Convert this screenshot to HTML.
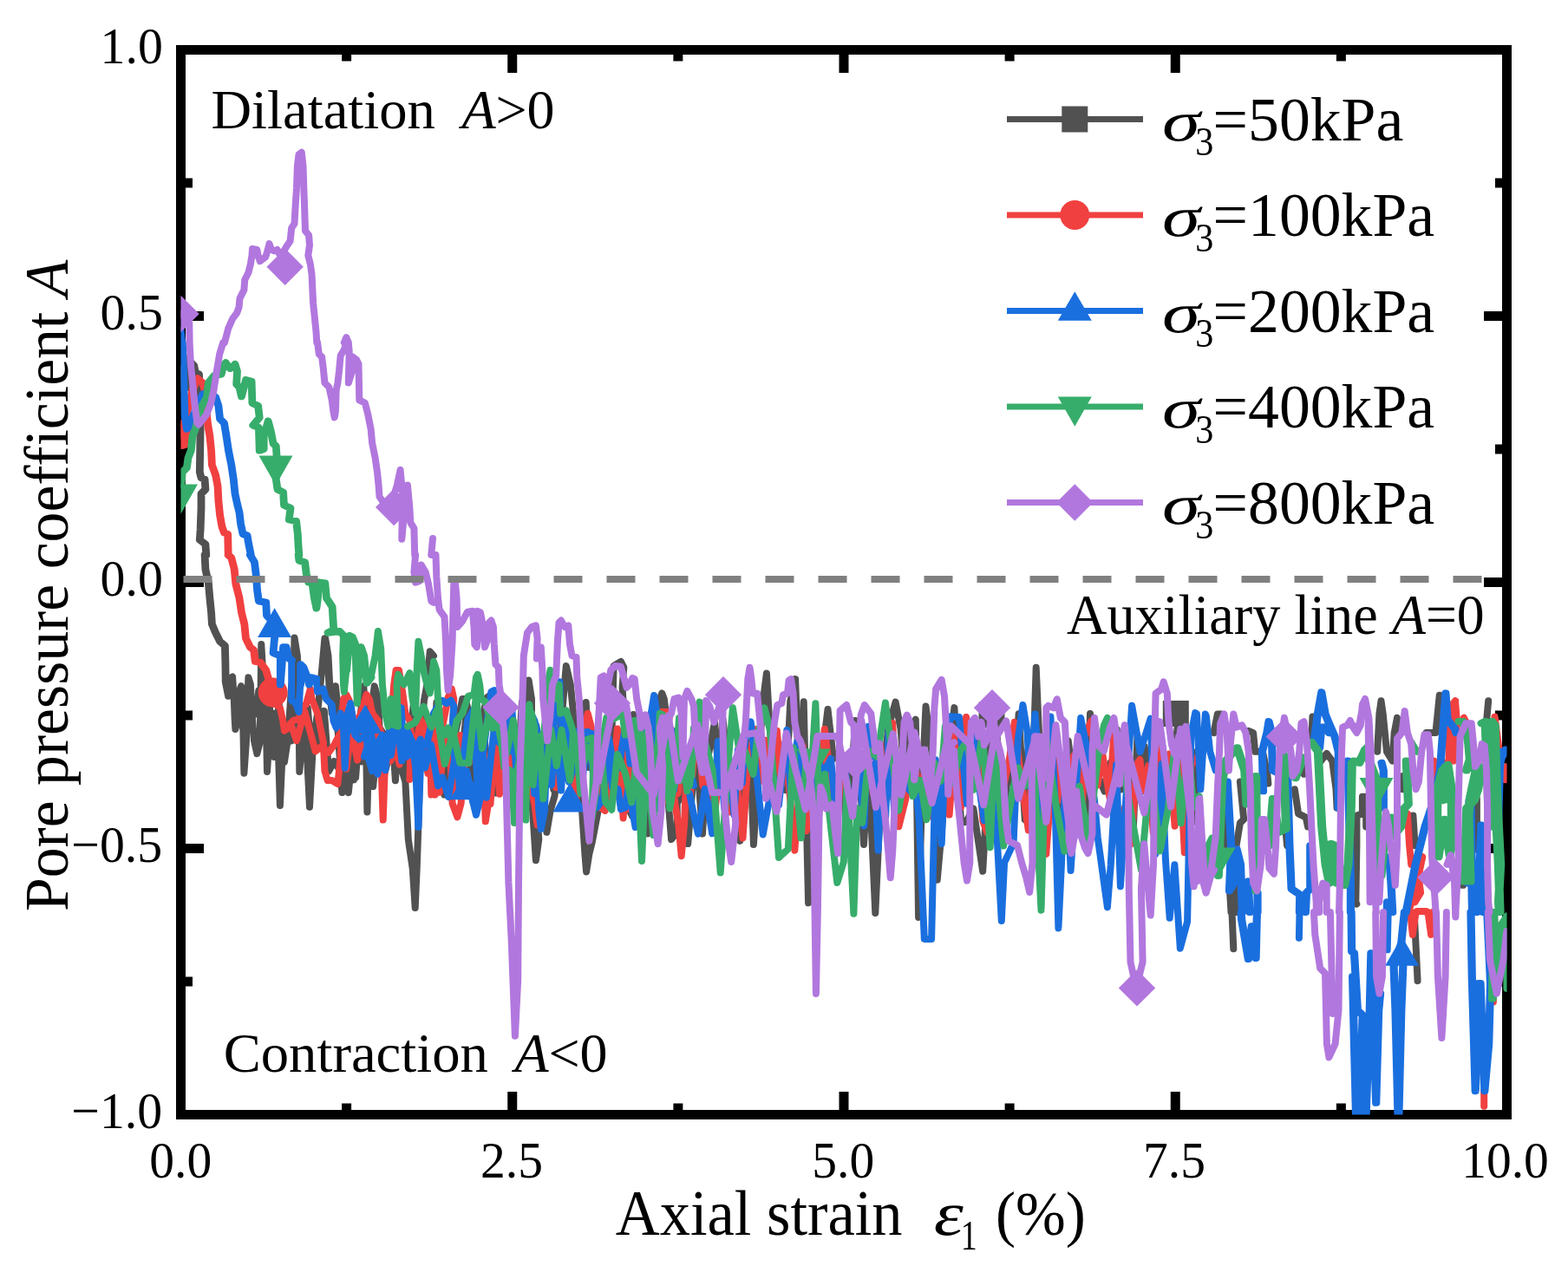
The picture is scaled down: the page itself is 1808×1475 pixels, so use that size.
<!DOCTYPE html>
<html lang="en"><head><meta charset="utf-8"><title>Pore pressure coefficient A vs axial strain</title>
<style>html,body{margin:0;padding:0;background:#fff}body{width:1808px;height:1475px;overflow:hidden}svg{display:block}text{font-family:"Liberation Serif","DejaVu Serif",serif;fill:#000}.i{font-style:italic}</style></head><body>
<svg width="1808" height="1475" viewBox="0 0 1808 1475">
<rect width="1808" height="1475" fill="#fff"/>
<defs><clipPath id="c"><rect x="208.5" y="57.5" width="1529.0" height="1228.0"/></clipPath></defs>
<rect x="208.5" y="57.5" width="1529.0" height="1228.0" fill="none" stroke="#000" stroke-width="11"/>
<path d="M590.75 1285.5V1259.0M590.75 57.5V84.0M973.00 1285.5V1259.0M973.00 57.5V84.0M1355.25 1285.5V1259.0M1355.25 57.5V84.0M399.62 1285.5V1272.5M399.62 57.5V70.5M781.88 1285.5V1272.5M781.88 57.5V70.5M1164.12 1285.5V1272.5M1164.12 57.5V70.5M1546.38 1285.5V1272.5M1546.38 57.5V70.5M208.5 364.50H235.0M1737.5 364.50H1711.0M208.5 671.50H235.0M1737.5 671.50H1711.0M208.5 978.50H235.0M1737.5 978.50H1711.0M208.5 211.00H222.0M1737.5 211.00H1724.0M208.5 518.00H222.0M1737.5 518.00H1724.0M208.5 825.00H222.0M1737.5 825.00H1724.0M208.5 1132.00H222.0M1737.5 1132.00H1724.0" stroke="#000" stroke-width="11" fill="none"/>
<g id="yticks">
<text transform="translate(115.6,73.2) scale(0.98,1.02)" font-size="59" xml:space="preserve">1.0</text>
<text transform="translate(115.6,380.2) scale(0.98,1.02)" font-size="59" xml:space="preserve">0.5</text>
<text transform="translate(115.6,687.2) scale(0.98,1.02)" font-size="59" xml:space="preserve">0.0</text>
<text transform="translate(82.3,994.2) scale(0.98,1.02)" font-size="59" xml:space="preserve">−0.5</text>
<text transform="translate(82.3,1301.2) scale(0.98,1.02)" font-size="59" xml:space="preserve">−1.0</text>
</g>
<g id="xticks">
<text transform="translate(172.3,1357.6) scale(0.975,1.02)" font-size="59" xml:space="preserve">0.0</text>
<text transform="translate(554.1,1357.6) scale(0.975,1.02)" font-size="59" xml:space="preserve">2.5</text>
<text transform="translate(936.3,1357.6) scale(0.975,1.02)" font-size="59" xml:space="preserve">5.0</text>
<text transform="translate(1318.1,1357.6) scale(0.975,1.02)" font-size="59" xml:space="preserve">7.5</text>
<text transform="translate(1685.2,1357.6) scale(0.975,1.02)" font-size="59" xml:space="preserve">10.0</text>
</g>
<g id="xlabel">
<text transform="translate(709.8,1423.9) scale(0.979,1.015)" font-size="72" xml:space="preserve">Axial strain</text>
<text transform="translate(1076.8,1423.9) scale(1.2,1)" font-size="72" xml:space="preserve"><tspan class="i">ε</tspan></text>
<text transform="translate(1107.7,1441.3) scale(0.8,1)" font-size="47.6" xml:space="preserve">1</text>
<text transform="translate(1148.0,1423.9) scale(0.963,1.01)" font-size="72" xml:space="preserve">(%)</text>
</g>
<g id="ylabel">
<text transform="translate(77.9,1051.1) rotate(-90) scale(0.968,1)" font-size="72" xml:space="preserve">Pore pressure coefficient <tspan class="i">A</tspan></text>
</g>
<g id="notes">
<text transform="translate(243.4,148.4) scale(1.01,1)" font-size="64" xml:space="preserve">Dilatation</text>
<text transform="translate(532.4,148.4)" font-size="64" xml:space="preserve"><tspan class="i">A</tspan>&gt;0</text>
<text transform="translate(257.7,1236.4) scale(1.01,1)" font-size="64" xml:space="preserve">Contraction</text>
<text transform="translate(593.4,1236.4)" font-size="64" xml:space="preserve"><tspan class="i">A</tspan>&lt;0</text>
<text transform="translate(1230.1,730.8) scale(1.004,1.025)" font-size="64" xml:space="preserve">Auxiliary line</text>
<text transform="translate(1605.0,730.8) scale(0.996,1.025)" font-size="64" xml:space="preserve"><tspan class="i">A</tspan>=0</text>
</g>
<g clip-path="url(#c)" fill="none" stroke-linejoin="round" stroke-linecap="round">
<path d="M208.5 436.5L215 413.3L223.3 421.6L224.9 429.9L229.1 431.5L229.9 461.4L230.7 494.7L229.9 544.5L231.6 551.1L235.7 552.8L236.5 564.4L231.6 569.4L231.6 586L230.7 610.9L229.9 622.6L236.5 627.6L237.4 640M235.7 640L236.5 656.6L239.9 671.6L241.5 689.8L243.2 706.4L244 719.7L248.2 729.7L253.2 739.7L259 744.7L259.5 764.6L259.8 786.2L263.1 802.8L264.8 782.9L268.1 780.4L269.8 806.1L270.6 827.7L271.4 841L274.8 822.7L275.6 797.8L278.1 791.2L279.7 806.1L281.4 891.7L283.9 855.9L285.5 806.1L286.4 781.2L288.9 789.5L290.5 822.7L293 854.3L296.3 869.2L299.7 855.9L300.5 806.1L301.3 743L303 772.9L306.3 806.1L308 890L311.3 839.3L314.6 822.7L319.6 822.7L322.9 929L326.2 855.9L331.2 847.6L336.2 854.3L339.5 836L338.7 772.9L339.5 735.5L342.9 756.3L344.5 806.1L345.3 890L349.5 839.3L352.8 847.6L357 930.7L361.1 855.9L363.6 839.3L366.1 822.7L371.1 772.9L374.4 736.3L377.7 756.3L379.4 789.5L382.7 822.7L386.9 791.2L388.5 806.1L389.4 839.3L394.4 914.1L397.7 889.2L401.8 914.1L406 872.6L410.1 896.6L412.6 864.3L415.9 822.7L419.3 791.2L421.8 839.3L423.4 936.5L425.9 839.3L431.7 791.2L435.9 806.1L437.5 839.3L449.2 855.9L452.5 872.6L462.5 885L467.4 901.6L469.1 934.9L470.8 968.1L475.7 1001.3L478.7 1047L480.7 1001.3L482.4 951.5L484.1 889.2L485.7 839.3L489 807.8L492.4 789.5L495.7 751.3L500 756.3M500 839.3L510 885L512.5 916.6L516.6 901.6L516.6 885L529.9 822.7L533.2 806.1L536.5 806.1L549.8 855.9L561.5 804.5L564.8 802L573.1 872.6L576.4 885L599.7 839.3L609.6 784.5L613 806.1L613 918.2L616.3 968.1L617.9 992.2L621.3 968.1L619.6 943.2L631.2 934.9L630.4 959.8L634.6 934.9L639.5 918.2L641.2 901.6L649.5 806.1L652.8 767.9L657.8 789.5L661.1 822.7L662.8 831L671.1 934.9L674.4 984.7L676.1 1005.4L679.4 984.7L682.7 971.4L689.4 936.5L699.3 872.6L702.7 901.6L703.5 919.1L707.6 767.9L715.9 762.9L719.3 769.6L717.6 792.8L719.3 822.7L722.6 839.3L725.9 934.9L729.2 941.5L740.9 889.2L745.8 934.9L746.7 961.4L752.5 872.6L760.8 806.1L763.3 799.5L765.8 806.1L767.4 819.4L770.8 926.5L774.1 968.1L780.7 959.8L780.7 926.5L794 901.6L793.2 973.1L800 889.2M1399.5 845.1L1403.9 823.4L1408.2 823.4M1412.5 910.2L1414.7 975.2M1418 1027.3L1419.5 1052M1425.3 1052L1424.5 1018.6M1425.6 975.2L1429.9 949.2L1434.2 944.9L1429.9 901.5M1439.7 842.9L1445.1 845.1L1447.2 866.8L1455.9 866.8L1461.3 892.8L1462.4 903.6M1482 953.5L1484.1 975.2M1492.8 910.2L1497.1 938.4L1505.8 942.7L1508 953.5M1501.5 884.1L1503.6 892.8M1512.3 855.9L1513.4 826.6L1516.7 826.6M1523.2 877.6L1529.7 868.9L1536.2 877.6L1540.5 910.2L1541.6 931.8M1563.3 1042.5L1564.4 975.2L1564.4 940.5L1570.9 938.4L1570.9 918.8L1575.2 918.8L1579.6 953.5M1588.2 866.8L1590.4 823.4L1592.5 808.2L1594.7 823.4L1599 866.8L1605.6 877.6L1607.7 845.1L1611 827.7L1613.1 845.1M1560 942.7L1570.8 938.4L1571.9 918.8L1575.2 918.8L1575.2 953.5M1560 966.6L1563.3 1040.3L1564.3 1042.5M1644.6 845.1L1655.4 845.1L1659.8 801.7M1716.2 808.2L1714 832.1M1701 923.2L1702.1 979.6M1685.8 975.2L1686.9 1020.8M1629.4 940.5L1631.6 975.2M1617.5 895L1617.5 910.2M1420.5 1052L1422.3 1094.3M1630.7 1052.7L1634.6 1131.2M1702.9 921L1702.9 979.6M1685.6 975.2L1686.6 1020.8M209.3 436.5L215.8 413.3L224.1 421.6L225.7 429.9L229.9 431.5L230.7 461.4L231.5 494.7L230.7 544.5L232.4 551.1L236.5 552.8L237.3 564.4L232.4 569.4L232.4 586L231.5 610.9L230.7 622.6L237.3 627.6L238.2 640M236.5 640L237.3 656.6L240.7 671.6L242.3 689.8L244 706.4L244.8 719.7L249 729.7L254 739.7L259.8 744.7L260.3 764.6L260.6 786.2M371.9 772.9L375.2 736.3L378.5 756.3L380.2 789.5M795 901.7L801.2 836.5L810 961.6L814.7 881.4L824.1 832.5L829.5 905L833.5 829.5L842.1 908.7L853.2 969.9L859.5 852.1L865.4 873.7L868.9 974.1L873.5 905L879 815.1L883.9 776.4L887.2 831.4L894.1 919.3L901.9 873.3L906.2 911.3L911.3 808.8L917.1 783.1L922.6 932.5L926.7 809.3L932.1 1041.3L937.1 868.3L944.1 902.5L949.9 856.2L954.5 817.9L960.9 874.8L969.3 872.8L977.2 961.2L986.3 831.1L992.3 908.5L996 974.1L1001.6 882.4L1009.3 1053L1015.9 910.9L1024.5 838.2L1032.6 809.6L1038.6 840.8L1043.2 897.1L1047.5 849.8L1055.8 829.6L1059.1 1058L1063.8 893.3L1067.5 814.5L1076.7 885.2L1080.7 1014.8L1092.5 882.4L1100.4 816.1L1108.1 948.5L1113.7 948.1L1122.4 932.5L1133.2 1004.8L1136.8 940.9L1140.9 857.4L1149.6 849.4L1157.5 930.8L1166 867.5L1169.7 915.2L1174.6 823.3L1181.8 945.3L1185.4 864.2L1190.2 911.1L1194.7 769.8L1203.1 962L1209.2 858.4L1217.9 889.6L1221.3 984.9L1231.8 854.6L1241 932.6L1247.2 887.7L1253.2 947.7L1257 822.9L1264.8 891.7L1273.5 912.5L1280.4 879.8L1284.1 915.4L1287.8 841.3L1292.2 910.5L1298.4 850.2L1306.7 958.1L1311.5 849.1L1315.1 914.2L1319.7 860.7L1327.4 915.3L1335.4 848.7L1344.2 887.4L1352 895.1L1359.3 822.4L1366.2 964.9L1375.3 866.9L1380.1 948.3M272 827.2L275.4 817L281.9 848.9L286.9 832.5L291.4 823.6L295.4 823.6L298.3 796.5L303 844.5L306.3 827L309.7 802L316.1 872.9L321.7 811.4L324.6 856.1L327.9 879L332.1 851.3L336.1 790.9L338.7 841.3L345.2 812L349.9 871.7L354.8 816.5L358 854.9L364.3 835.8L368 862.8L373.8 819.9L379 889.5L385.3 878L391.7 888.1L396.2 879L402.2 852.6L407.9 899.4L413.8 852.7L417.5 878.4L420.2 841.3L426.7 820.2L430.2 907.2L435.6 851.4L441.5 899.2L446.4 880.4L452.3 844.9L455.9 900.2L461.1 810.2L466 892.2L470.9 872.2L477.2 808L480.1 864.6L484.4 846.3L489.5 846.6L493.3 880.3L496.4 843.1M500 913.5L503.4 810L507.8 879.5L516.2 851.9L522.7 894.6L530.5 889.2L538.3 818L545.6 924.4L550.1 829.8L554.4 904.7L558 848.5L563.4 896.6L571.9 914.5L579.5 874.7L586.1 827.8L589.9 869.9L596.5 896.2L601.9 810L610.6 872L618.2 836.6L624.5 872.7L633.2 854.4L638.3 910.4L644.1 903.7L648.9 859.2L655.7 892.2L659.7 840.5L668.3 920.7L675.7 810L679.1 885.1L683.3 852.9L691.3 874.4L695.7 857.2L700.6 863.9L707.7 915.1L713.1 917L718.9 842.3L722.9 896.6L730.3 824L736.7 897L740.6 909.7L746 862.8L753.1 907.9L760.6 821.2L764.1 827.1L768.8 849.4L774.1 841.4L779.5 855.8L784.6 919.1L792.1 870.8" stroke="#515151" stroke-width="8.0"/>
<rect x="193.5" y="421.0" width="30" height="30" fill="#515151"/>
<rect x="1340.8" y="808.0" width="30" height="30" fill="#515151"/>
<rect x="1128.5" y="809.6" width="30" height="30" fill="#515151"/>
<path d="M208.5 501.3L212.5 488L216.6 469.8L221.6 449.8L227.4 436.5L233.2 441.5L235.7 449.8L237.4 469.8L239 488L241.5 503L243.2 519.6L244 536.2L248.2 547.8L250.7 561.1L251.5 577.7L253.2 594.3L255.6 607.6L258.1 614.3L262.3 615.9L262.8 640M262.8 640L266.4 643.3L269.8 656.6L271.4 673.2L275.6 689.8L278.1 706.4L281.4 719.7L283.1 736.3L288 746.3L292.2 749.6L293.9 762.9L299.7 763.8L306.3 772.9L309.6 784.5L308 796.1L309.6 806.1L316.3 811.1L322.9 816.1L326.2 831L327.9 842.7L332.9 839.3L337.9 831L344.5 829.4L349.5 814.4L352.8 812.8L357.8 794.5L359.5 806.1L366.1 822.7L369.4 839.3L372.8 855.9L374.4 889.2L377.7 900L382.7 900L389.4 904.1L392.7 872.6L394.4 822.7L396 806.1L399.3 801.1L402.7 807.8L409.3 839.3L415.9 822.7L422.6 801.1L425.9 806.1L429.2 822.7L435.9 831L439.2 872.6L441.7 945.6L444.2 872.6L449.2 855.9L454.2 789.5L456.6 772.9L460 772.9L464.1 797.8L467.4 822.7L472.4 831L474.1 847.6L472.4 899.1L482.4 872.6L489 855.9L492.4 832.7L495.7 839.3L497.3 916.6L500 889.2M500 855.9L501.7 916.6L503.3 885L510 839.3L516.6 804.5L520.8 794.5L523.3 806.1L519.9 885L521.6 926.5L527.4 942.3L531.6 926.5L533.2 901.6L536.5 855.9L539.9 836L543.2 832.7L549.8 839.3L553.2 855.9L558.1 901.6L559.8 947.3L563.1 926.5L566.4 905L573.1 885L583.1 855.9L588 827.7L591.4 839.3L593 855.9L599.7 872.6L611.3 906.6L616.3 926.5L619.6 951.5L626.2 889.2L637.9 885L641.2 908.3L646.2 901.6L644.5 859.3L657.8 855.9L674.4 839.3L677.7 822.7L681.1 836L691 885L692.7 931.5L697.7 934.9L701 901.6L702.7 885L719.3 933.2L724.3 933.2L732.6 872.6L749.2 855.9L760.8 821.1L772.4 821.1L765.8 885L770.8 924.9L775.7 909.9L782.4 951.5L785.7 987.2L789 951.5L790.7 909.9L800 872.6M1678.2 808.2L1672.8 823.4L1670.6 845.1L1670.6 879.8L1666.3 879.8M1688 827.7L1690.2 832.1M1723.8 827.7L1728.1 866.8L1727 910.2M1735.7 884.1L1735.7 899.3M1653.3 877.6L1653.3 914.5M1622.9 938.4L1625.1 975.2L1627.2 996.9L1640.3 988.2L1633.8 1018.6L1625.1 1049L1625.3 1052M1633.6 1052L1633.8 1051.1L1644.6 1051.1L1644.7 1052M1653.1 1052L1653.3 1051.1M1633.8 996.9L1638.1 1029.5L1631.6 1040.3M1711.2 1258.2L1711.2 1275.7M1626.2 1052L1628.8 1077.9L1632.5 1052M1646.5 1052L1650.1 1077.9L1653.6 1052M1721.9 1145.7L1721.9 1155.4M1674.7 812.5L1678 808.2L1680.1 834.2L1675.8 877.6L1672.5 845.1M1723.5 826.6L1728.9 866.8L1726.8 949.2M209.3 501.3L213.3 488L217.4 469.8L222.4 449.8L228.2 436.5L234 441.5L236.5 449.8L238.2 469.8L239.8 488L242.3 503L244 519.6L244.8 536.2L249 547.8L251.5 561.1L252.3 577.7L254 594.3L256.4 607.6L258.9 614.3L263.1 615.9L263.6 640M263.6 640L267.2 643.3L270.6 656.6L272.2 673.2L276.4 689.8L278.9 706.4L282.2 719.7L283.9 736.3L288.8 746.3L293 749.6L294.7 762.9L300.5 763.8L307.1 772.9L310.4 784.5M795 924.4L804.3 833.2L810.4 906.2L817.6 879.2L822.4 956.6L827.4 906.7L833.8 852.9L841.6 936.6L849 894.4L856.5 966.6L861.6 891.8L869.9 840.6L878.3 900.6L883.2 853.8L891.3 894.5L895.9 842.8L901.1 905.3L905 857L910.2 911.1L916.3 980.7L925.6 860.5L929.6 958.3L933.5 946.2L938.7 847.5L943.6 907.9L950.8 840.7L957.4 894.9L965.5 952.8L970.5 869.6L977.7 916.1L986.5 911.4L995.2 880.5L1001.8 855.3L1006.6 914.2L1014.2 855.2L1022.9 920.5L1029.1 833.7L1036.3 953.2L1044.3 921.2L1053.2 851.3L1058.8 921.6L1065.6 891.9L1074.5 941.5L1083.4 915.2L1089.2 871.2L1094.6 939.6L1101.3 848.5L1108 930.7L1114.1 827.1L1120.6 905L1126 850.2L1133.5 947.6L1138.2 960L1141.9 924.6L1146.8 863.5L1150.4 863.1L1155.2 915.8L1164.1 874.2L1169.8 832.9L1177.2 897.9L1185.8 957.4L1192.5 843.6L1200 923.7L1206.3 984.9L1214.7 872.9L1220.3 923.2L1225.2 876.4L1229.1 966.5L1238.1 871.5L1246.8 956.8L1251.1 848.2L1258.3 831.5L1265.5 905.5L1271.3 870L1279.6 920.3L1284.6 842.3L1288.5 968.6L1296.9 931.2L1304.3 973.2L1310.7 881.9L1314.4 876L1319 911.4L1324.3 883.1L1329.7 960.2L1333.9 853.5L1340.1 936.4L1348.3 869.5L1354.6 952.7L1360.6 881L1365.8 983.3L1374.4 873.1L1382 881M335 834L342 854.1L351.2 820.4L358.3 846.3L363.7 866.4L371.1 860.5L378.6 868L385.3 859.1L391.8 846.6L399.3 886.7L405 840.5L412.1 876.6L419.6 846.3L429 874.1L434.9 833.1L441.5 850.3L450.3 877.8L455.9 861.5L460.6 881.6L468.9 850.4L476.5 879.8L484.9 829.3L493.4 891.9L500.4 826.7L506.8 913.8L512.4 848.3L519.6 841.5L526.1 913.9L530.6 848.1L535.8 881.8L541.4 878.6L546.5 825.5L551.7 878L556.5 858.1L565.5 927.2L571.2 848.4L576 915.7L584 852.2L589 895.1L593 845.5L601.7 904.7L608.2 843.6L614.7 883.4L618.3 846.5L626.8 869.1L631.2 900.4L639.5 892.6L646.8 879.1L655.6 866.5L664.2 921.4L669.4 882.4L675.9 853.2L685.2 875.9L693.9 931.5L701.3 880.6L705.2 915.4L711.8 840.6L718.6 943.5L725.3 852.4L734.4 931L742.8 900.6L747.4 861.6L756.3 856.9L764.2 889.6L773.3 910L781.6 915.2L786.8 871.3" stroke="#F14040" stroke-width="8.0"/>
<circle cx="208.5" cy="501.0" r="17" fill="#F14040"/>
<circle cx="314.6" cy="798.6" r="17" fill="#F14040"/>
<path d="M208.5 380.9L210 395M210 395L211.6 444.8L212.5 478.1L215 494.7L218.3 491.3L221.6 481.4L228.2 466.4L233.2 454.8L239.9 451.5L248.2 458.1L251.5 468.1L253.2 483L258.1 488L260.6 503L263.1 519.6L266.4 536.2L268.9 552.8L270.6 569.4L273.1 581L275.6 591L277.2 604.3L279.7 615.9L284.7 617.6L286.4 627.6L288.9 640M288 640L293 648.3L294.7 661.6L296.3 681.5L298 693.2L306.3 694.8L307.1 709.8L316.3 719.7L316.3 734.7L314.6 753L322.9 756.3L322.9 789.5L326.2 746.3L329.6 746.3L332.9 759.6L336.2 761.3L336.2 807.8L341.2 811.1L344.5 821.1L346.2 789.5L346.2 766.2L349.5 769.6L352.8 777.9L356.1 789.5L357.8 781.2L364.5 782.9L366.1 797.8L372.8 794.5L376.1 806.1L382.7 812.8L384.4 831L387.7 839.3L392.7 822.7L396 839.3L397.7 885.8L399.3 855.9L401 822.7L404.3 811.1L409.3 847.6L414.3 852.6L422.6 847.6L424.3 872.6L429.2 889.2L432.6 885L435.9 855.9L440.9 847.6L444.2 888.3L449.2 839.3L452.5 847.6L459.1 839.3L462.5 816.1L464.1 839.3L465.8 864.3L469.1 872.6L472.4 849.3L475.7 855.9L479.1 885L482.4 954L485.7 860.9L492.4 857.6L500 822.7M500 822.7L506.6 811.1L510 807.8L515 811.1L519.9 807.8L523.3 814.4L521.6 839.3L524.9 885L538.2 889.2L544.9 923.2L549 939.8L553.2 923.2L554.8 885L553.2 854.3L556.5 872.6L566.4 797.8L569.8 796.1L574.8 855.9L599.7 872.6L611.3 821.1L616.3 831L619.6 844.3L619.6 893.3L621.3 934.9L623.8 956.4L627.9 934.9L629.6 893.3L636.2 855.9L645.3 786.2L646.2 822.7L652.8 885L656.1 901.6L666.1 872.6L674.4 844.3L682.7 846L691 872.6L702.7 869.2L706 908.3L712.6 909.9L715.9 933.2L720.9 931.5L724.3 909.9L729.2 934.9L732.6 954L734.2 934.9L732.6 885L740.9 855.9L750.8 822.7L754.2 802L757.5 822.7L755.8 872.6L765.8 880.9L775.7 847.6L780.7 842.7L790.7 872.6L800 905.8M1380 823.4L1384.3 910.2L1389.8 823.4L1390.8 825.6L1395.2 866.8L1401.7 888.5M1414.7 901.5L1419 975.2L1416.9 1027.3L1423.4 1016.4L1425.6 979.6L1429.9 996.9L1431.8 1052M1449.4 1052L1449.4 1029.5L1438.6 1016.4L1440.4 1052M1455.9 912.3L1454.8 866.8L1460.3 845.1L1462.4 832.1L1465.7 845.1L1466.8 888.5L1484.1 897.1L1486.3 975.2L1488.5 1025.1L1498.2 1031.6L1497.8 1052M1504.8 1052L1505.8 1029.5L1510.2 1025.1L1510.2 975.2M1514.5 855.9L1518.8 823.4L1523.2 798.4L1527.5 823.4L1531.8 834.2L1538.4 849.4L1542.7 866.8L1542.7 931.8M1521 862.4L1523.2 838.6L1527.5 838.6L1531.8 845.1M1553.5 877.6L1556.8 1018.6L1556.8 1052M1592.5 879.8L1594.7 888.5L1594.7 931.8M1678.2 845.1L1677.1 840.7L1668.5 829.9L1666.3 799.5L1663 845.1L1659.8 888.5L1653.3 921L1642.4 953.5L1631.6 996.9L1622.9 1040.3L1620.6 1052M1601.2 988.2L1603.4 1018.6L1605.1 1052M1599 1040.3L1598.6 1052M1692.3 1018.6L1693.4 923.2L1695.6 975.2L1696.7 1040.3L1697.1 1052M1702.3 1052L1703.2 1040.3L1707.5 953.5L1707.5 996.9L1709.7 1040.3L1710.1 1052M1727 931.8L1728.1 888.5L1731.4 866.8L1736.8 866.8M1430.7 1052L1431 1060.4L1438.8 1106L1442.7 1068.2L1447.5 1105L1448.8 1052M1498.5 1052L1497.9 1081.7M1557.5 1052L1558 1097.3L1560.9 1099.2L1564.8 1165.1L1570.6 1170.9L1566.8 1285.3L1574.5 1285.3L1578.4 1176.8L1580.3 1099.2L1586.1 1271.8L1589.1 1165.1L1591 1145.7M1559 1126.3L1562.9 1285.3L1570.6 1285.3L1572.6 1184.5M1600.7 1052L1599.7 1095.3M1618.8 1052L1615.2 1087.6L1606.5 1114.7L1608.4 1165.1L1611.4 1285.3L1612.3 1285.3L1615.2 1165.1L1617.2 1114.7M1695.4 1052L1696.7 1126.3L1700.6 1258.2L1704.4 1134.1L1706.4 1134.1L1711.2 1258.2L1716.1 1203.9L1718 1134.1L1714.2 1052M1695.3 921L1696.4 996.9L1697.6 1052M1707.2 951.4L1709.4 1040.3L1709.8 1052M1702.9 1051.1L1702.9 1052M1735.4 864.6L1728.9 877.6L1726.8 953.5M210.8 395L212.4 444.8L213.3 478.1L215.8 494.7L219.1 491.3L222.4 481.4L229 466.4L234 454.8L240.7 451.5L249 458.1L252.3 468.1L254 483L258.9 488L261.4 503L263.9 519.6L267.2 536.2L269.7 552.8L271.4 569.4L273.9 581L276.4 591L278 604.3L280.5 615.9L285.5 617.6L287.2 627.6L289.7 640M288.8 640L293.8 648.3L295.5 661.6L297.1 681.5L298.8 693.2L307.1 694.8L307.9 709.8L317.1 719.7L317.1 734.7L315.4 753L323.7 756.3L323.7 789.5L327 746.3L330.4 746.3L333.7 759.6L337 761.3M347 789.5L347 766.2L350.3 769.6L353.6 777.9L356.9 789.5L358.6 781.2L365.3 782.9M1415.9 901.5L1420.2 975.2L1418.1 1027.3L1424.6 1016.4L1426.8 979.6L1431.1 996.9L1433 1052M1450.6 1052L1450.6 1029.5L1439.8 1016.4L1441.6 1052M1457.1 912.3L1456 866.8L1461.5 845.1L1463.6 832.1L1466.9 845.1L1468 888.5L1485.3 897.1L1487.5 975.2L1489.7 1025.1L1499.4 1031.6L1499 1052M1506 1052L1507 1029.5L1511.4 1025.1L1511.4 975.2M1515.7 855.9L1520 823.4L1524.4 798.4L1528.7 823.4L1533 834.2L1539.6 849.4L1543.9 866.8L1543.9 931.8M1522.2 862.4L1524.4 838.6L1528.7 838.6L1533 845.1M1554.7 877.6L1558 1018.6L1558 1052M1593.7 879.8L1595.9 888.5L1595.9 931.8M1679.4 845.1L1678.3 840.7L1669.7 829.9L1667.5 799.5L1664.2 845.1L1661 888.5L1654.5 921L1643.6 953.5L1632.8 996.9L1624.1 1040.3L1621.8 1052M1602.4 988.2L1604.6 1018.6L1606.3 1052M1693.5 1018.6L1694.6 923.2L1696.8 975.2L1697.9 1040.3L1698.3 1052M1703.5 1052L1704.4 1040.3L1708.7 953.5L1708.7 996.9L1710.9 1040.3L1711.3 1052M1728.2 931.8L1729.3 888.5L1732.6 866.8L1738 866.8M1431.9 1052L1432.2 1060.4L1440 1106L1443.9 1068.2L1448.7 1105L1450 1052M1558.7 1052L1559.2 1097.3L1562.1 1099.2L1566 1165.1L1571.8 1170.9L1568 1285.3L1575.7 1285.3L1579.6 1176.8L1581.5 1099.2L1587.3 1271.8L1590.3 1165.1L1592.2 1145.7M1560.2 1126.3L1564.1 1285.3L1571.8 1285.3L1573.8 1184.5M1620 1052L1616.4 1087.6L1607.7 1114.7L1609.6 1165.1L1612.6 1285.3L1613.5 1285.3L1616.4 1165.1L1618.4 1114.7M1696.6 1052L1697.9 1126.3L1701.8 1258.2L1705.6 1134.1L1707.6 1134.1L1712.4 1258.2L1717.3 1203.9L1719.2 1134.1L1715.4 1052M1696.5 921L1697.6 996.9L1698.8 1052M1708.4 951.4L1710.6 1040.3L1711 1052M1736.6 864.6L1730.1 877.6L1728 953.5M795 915L801.4 946.6L805 961.6L812.9 909.9L821.2 961.3L828 855L835.5 933.6L840.3 873.4L846.5 939.8L850.9 865L855.8 903.1L859.8 841.7L865.7 832.4L869.5 866.6L879.7 962.4L884 939.1L892.3 896.7L898 928.5L907.3 841.9L912.1 919.6L919.1 855.8L924.7 898.8L932.3 868.5L936.3 922.7L943 872.9L948.6 893.9L958 874.9L963.2 931.2L969.5 876L973.1 881.4L982.3 938.8L989.8 877.7L996.3 952.4L1001.4 837.8L1006.5 842.1L1012.6 980.7L1017.1 876.8L1021.2 941.5L1024.8 841L1031.2 934.6L1036.5 870.7L1045.1 907.2L1050 912.7L1053.7 876.9L1059.9 947.9L1065.8 1082.9L1074.1 1082.9L1078.8 876.2L1085.7 973.2L1090.2 865.6L1095.7 826.2L1105.9 827L1114.9 926.9L1122.1 838.5L1126.3 888.1L1134.7 946.3L1143.9 895.9L1147.7 928.3L1154.8 1062.1L1158.1 994.8L1168.6 972.4L1173.8 853L1179.4 813L1184.4 843.5L1188 907.3L1193.5 823.4L1202 947.3L1211.4 826.5L1216.5 922L1220.4 1070.4L1229.6 878.3L1234.6 1004L1246.2 827.9L1254.8 871.6L1262.1 924.3L1265.8 966.2L1276.9 1046.3L1280.8 997.2L1287.2 881.6L1291.9 1022.2L1305.1 813.8L1314.7 867L1326.7 828.7L1332.1 985.3L1339.6 881.1L1343.9 990.8L1348.7 1058.8L1354.4 997.2L1360.8 1093.7L1369.1 1062.9L1373.3 846.7L1378.2 822.1M420 872.4L428.2 847.3L435.4 892.7L443.4 852.7L450.8 871.1L457.2 827.4L463.4 877.4L468 840.2L472.7 849.1L476.5 872.2L484.9 852.4L490.1 885.4L496.9 858.6L505.1 906.3L510.1 896.4L517.1 919.1L526.4 861.6L530.1 912.5L539.4 829.6L546.1 818.5L551.7 927.2L556.4 862.6L561.1 919.7L566 873.6L570.5 833.7L575.6 838.8L581.8 842.9L590.1 815L596.1 901L603.4 878.2L609.4 822.2L616.2 915.3L623.4 853.7L631.9 889.5L635.9 905.3L640.9 842.1L647.1 911.6L652.9 823L661.5 881.1L666.1 843.7L670.2 911.1L677.8 844L684.4 895L688.5 931.2L695 922.1L702.1 852.3L707.7 883.7L713.3 885.3L721.6 834.6L726.7 880.8L731.6 847.4L738.1 854.5L742.3 899.4L750.9 853L756 815L759.8 932.6L765.5 876.4L769.6 845.4L777.1 910.6L786.1 846.2" stroke="#1A6FDF" stroke-width="8.0"/>
<path d="M316.6 701.3L336.1 734.9L297.1 734.9Z" fill="#1A6FDF"/>
<path d="M421.0 812.4L440.5 846.0L401.5 846.0Z" fill="#1A6FDF"/>
<path d="M538.2 888.7L557.7 922.3L518.7 922.3Z" fill="#1A6FDF"/>
<path d="M657.0 902.9L676.5 936.5L637.5 936.5Z" fill="#1A6FDF"/>
<path d="M1616.6 1080.1L1636.1 1113.7L1597.1 1113.7Z" fill="#1A6FDF"/>
<path d="M208.5 558.6L210 544.5L215 539.5L216.6 527.9L219.9 519.6L221.6 503L224.9 494.7L231.6 469.8L238.2 458.1L239.9 441.5L246.5 433.2L254.8 431.5L257.3 421.6L259.8 418.3L264.8 424.9L268.1 423.2L270.6 419.9L273.1 428.2L272.3 443.2L275.6 446.5L278.1 457.3L281.4 444.8L283.1 438.2L289.7 439.9L290.5 464.8L297.2 468.1L298.8 481.4L291.4 490.5L298 493L298.8 519.6L303.8 517.9L303.8 503L308.8 485.5L312.1 498L314.6 511.3L317.9 514.6L318.8 527.9L317.9 552.8L319.6 564.4L326.2 567.8L327.1 582.7L334.6 586L332.9 599.3L341.2 601L342.9 615.9L343.7 630.9L344.5 640M343.7 640L344.5 646.6L351.2 648.3L352.8 661.6L355.3 671.6L359.5 671.6L362 689.8L364.5 701.5L366.1 689.8L366.9 671.6L374.4 672.4L376.1 689.8L382.7 699.8L384.4 726.4L377.7 729.7L391 728L396 733L395.2 756.3L396 789.5L396.8 797.8L399.3 772.9L402.7 733L406 734.7L409.3 743L411 789.5L411.8 811.1L414.3 772.9L415.9 746.3L419.3 756.3L422.6 787.8L427.6 781.2L432.6 756.3L435.9 728L439.2 748L440.9 789.5L444.2 822.7L447.5 837.7L450.8 806.1L454.2 836L459.1 837.7L457.5 789.5L459.1 777.9L465.8 789.5L472.4 776.2L475.7 806.1L479.1 822.7L480.7 772.9L482.4 739.7L485.7 756.3L489 776.2L492.4 789.5L495.7 799.5L500 764.6M500 762.9L503.3 772.9L505 806.1L508.3 839.3L513.3 847.6L516.6 839.3L521.6 855.9L526.6 831L533.2 822.7L539.9 802.8L546.5 801.1L549 781.2L550.7 777.9L553.2 789.5L554.8 806.1L559.8 809.4L563.1 822.7L569.8 831L574.8 839.3L578.1 855.9L581.4 885L589.7 889.2L593 949L596.3 889.2L603 855.9L606.3 945.6L608 831L613 822.7L616.3 839.3L614.6 905L619.6 852.6L626.2 854.3L631.2 806.1L632.9 781.2L634.6 772.9L637.9 781.2L639.5 806.1L644.5 789.5L646.2 822.7L652.8 819.4L659.5 839.3L666.1 872.6L669.4 914.9L672.8 854.3L682.7 851L684.4 864.3L682.7 943.2L694.4 855.9L699.3 827.7L704.3 831L712.6 826L717.6 822.7L720.9 847.6L724.3 832.7L732.6 831L735.9 855.9L737.5 934.9L740 993L742.5 934.9L744.2 885L750.8 934.9L753.3 963.1L755.8 889.2L759.1 855.9L760.8 822.7L764.1 824.4L769.1 872.6L777.4 906.6L779.1 855.9L784.1 900L790.7 864.3L797.3 895L800 839.3M1380 983.9L1384.3 996.9L1390.8 1001.3L1393 975.2L1397.4 966.6L1403.9 1009.9L1408.2 901.5L1412.5 877.6L1421.2 866.8L1425.6 862.4L1429.9 875.4L1434.2 888.5L1436.4 927.5L1447.2 895L1448.3 996.9L1447.2 1027.3M1462.4 975.2L1466.8 921L1473.3 960L1482 955.7L1478.7 868.9L1484.1 888.5L1492.8 897.1L1501.5 873.3M1511.2 855.9L1518.8 866.8L1521 910.2L1523.2 953.5L1527.5 996.9L1531.8 1018.6L1534 973.1L1538.4 975.2L1540.5 1018.6L1549.2 1020.8L1553.5 996.9L1556.8 931.8L1557.9 879.8L1566.6 877.6L1575.2 862.4M1560 877.6L1566.5 879.8L1573 864.6L1587.1 901.5L1587.1 925.3L1588.2 975.2L1591.5 1009.9L1594.7 975.2L1603.4 942.7L1605.6 964.4L1614.2 953.5L1618.6 931.8L1622.9 927.5L1620.7 877.6M1627.2 855.9L1633.8 866.8M1653.3 921L1662 888.5L1668.5 882L1672.8 910.2L1672.8 975.2L1670.6 986.1L1664.1 944.9L1657.6 988.2L1655.4 953.5L1653.3 921L1665.2 901.5L1668.5 918.8L1659.8 918.8M1681.5 832.1L1685.8 832.1L1690.2 845.1L1692.3 858.1L1694.5 884.1L1701 888.5L1707.5 884.1L1703.2 910.2L1698.8 923.2L1690.2 931.8L1688 996.9L1685.8 1016.4L1694.5 1016.4L1692.3 931.8M1707.5 834.2L1711.8 832.1L1715.1 836.4L1719.4 832.1L1722.7 836.4L1724.9 910.2L1727 953.5L1729.2 996.9L1727 1040.3L1727.8 1052M1721.3 1052L1721.9 1068.2L1719.9 1151.6L1729.6 1068.2L1737.4 1056.5L1737.4 1139.9M1711.6 834.2L1713.8 888.5L1715.9 953.5L1724.6 953.5L1726.8 996.9L1728.6 1052M1715.9 834.2L1719.2 892.8L1721.3 951.4M1659.5 910.2L1666 884.1L1672.5 910.2L1661.7 923.2L1670.4 921L1666 901.5M1689.9 888.5L1696.4 866.8L1700.7 888.5L1694.2 918.8L1689.9 975.2L1688.8 1014.3M1658.4 925.3L1657.4 988.2M1668.2 947L1670.4 979.6M209.3 558.6L210.8 544.5L215.8 539.5L217.4 527.9L220.7 519.6L222.4 503L225.7 494.7L232.4 469.8L239 458.1L240.7 441.5L247.3 433.2L255.6 431.5L258.1 421.6L260.6 418.3L265.6 424.9L268.9 423.2L271.4 419.9L273.9 428.2L273.1 443.2L276.4 446.5L278.9 457.3L282.2 444.8L283.9 438.2L290.5 439.9L291.3 464.8L298 468.1L299.6 481.4L292.2 490.5L298.8 493L299.6 519.6L304.6 517.9L304.6 503L309.6 485.5L312.9 498L315.4 511.3L318.7 514.6L319.6 527.9L318.7 552.8L320.4 564.4L327 567.8L327.9 582.7L335.4 586L333.7 599.3L342 601L343.7 615.9L344.5 630.9L345.3 640M344.5 640L345.3 646.6L352 648.3L353.6 661.6L356.1 671.6L360.3 671.6L362.8 689.8L365.3 701.5L366.9 689.8L367.7 671.6L375.2 672.4L376.9 689.8L383.5 699.8L385.2 726.4L378.5 729.7L391.8 728L396.8 733L396 756.3L396.8 789.5M400.1 772.9L403.5 733L406.8 734.7L410.1 743L411.8 789.5M415.1 772.9L416.7 746.3L420.1 756.3L423.4 787.8L428.4 781.2M1395 975.2L1399.4 966.6L1405.9 1009.9L1410.2 901.5L1414.5 877.6L1423.2 866.8L1427.6 862.4L1431.9 875.4L1436.2 888.5L1438.4 927.5L1449.2 895L1450.3 996.9L1449.2 1027.3M1464.4 975.2L1468.8 921L1475.3 960L1484 955.7L1480.7 868.9L1486.1 888.5L1494.8 897.1L1503.5 873.3M1513.2 855.9L1520.8 866.8L1523 910.2L1525.2 953.5L1529.5 996.9L1533.8 1018.6L1536 973.1L1540.4 975.2L1542.5 1018.6L1551.2 1020.8L1555.5 996.9L1558.8 931.8L1559.9 879.8L1568.6 877.6L1577.2 862.4M1562 877.6L1568.5 879.8L1575 864.6L1589.1 901.5L1589.1 925.3L1590.2 975.2L1593.5 1009.9L1596.7 975.2L1605.4 942.7L1607.6 964.4L1616.2 953.5L1620.6 931.8L1624.9 927.5L1622.7 877.6M1655.3 921L1664 888.5L1670.5 882L1674.8 910.2L1674.8 975.2L1672.6 986.1L1666.1 944.9L1659.6 988.2L1657.4 953.5L1655.3 921L1667.2 901.5L1670.5 918.8L1661.8 918.8M1683.5 832.1L1687.8 832.1L1692.2 845.1L1694.3 858.1L1696.5 884.1L1703 888.5L1709.5 884.1L1705.2 910.2L1700.8 923.2L1692.2 931.8L1690 996.9L1687.8 1016.4L1696.5 1016.4L1694.3 931.8M1709.5 834.2L1713.8 832.1L1717.1 836.4L1721.4 832.1L1724.7 836.4L1726.9 910.2L1729 953.5L1731.2 996.9L1729 1040.3L1729.8 1052M1723.3 1052L1723.9 1068.2L1721.9 1151.6L1731.6 1068.2L1739.4 1056.5L1739.4 1139.9M1713.6 834.2L1715.8 888.5L1717.9 953.5L1726.6 953.5L1728.8 996.9L1730.6 1052M1717.9 834.2L1721.2 892.8L1723.3 951.4M1661.5 910.2L1668 884.1L1674.5 910.2L1663.7 923.2L1672.4 921L1668 901.5M1691.9 888.5L1698.4 866.8L1702.7 888.5L1696.2 918.8L1691.9 975.2L1690.8 1014.3M795 906L806.6 809.6L812.8 855.8L821.6 887.9L830.7 1006.5L840 875.8L844.9 816.3L854.7 881.2L859.4 866.9L868.5 892.8L873.3 850.5L881.4 816.3L888.1 843L898 989L908.8 979.1L914.8 862.4L923.7 966.3L930.1 867.1L936 882.9L940.4 811.3L944.4 932.3L951.1 892.8L965.3 1018.1L972.8 994L976.7 901L984.4 1053.8L988.2 931.7L994.3 948.9L1002.2 865.9L1011.4 872.7L1020.9 810.5L1025.8 845.8L1036.1 934.7L1046.6 871.5L1052.5 918.2L1061.3 899.8L1068.4 945.3L1077.8 880L1084.8 900.9L1089.9 837.5L1098.6 902.8L1107.1 865.7L1115.7 854.5L1122.6 910.8L1133 846.5L1141.7 977.2L1146.5 861.3L1157.2 975.6L1167.6 912.5L1173.8 885.5L1181.9 906.6L1191.3 863L1200.5 1049.7L1206.2 851.6L1217 924.6L1227.4 981.7L1234.2 949.6L1244.7 906.8L1255.3 970.4L1265.9 873.9L1273 836.1L1276.9 827.9L1287.1 843.5L1294 878L1304 936.6L1315.9 1003.1L1323.1 923.6L1331 924.1L1337.5 981.5L1346.8 933.4L1355.1 856.9L1361.7 949.3L1369.9 860.4L1376.4 931.1L1382.6 918.2M470 837.7L478.5 833.5L488.4 815L497.5 838.5L503.3 819.7L512.8 881.1L522.3 844.4L530.3 879.7L540.4 880L548.9 802.5L555.9 863L562.8 828.8L567.4 839.7L576.1 837.2L583.9 869.7L591.9 830.8L598.3 870.9L603.7 862.1L610.3 812.4L616.5 873.8L622.3 849.4L626.4 921.3L635.3 841.6L641.8 883L647.5 841.7L657.1 899.7L661.1 844.3L669.3 890L678.8 861.6L687.5 896.3L693.8 872L698.1 924.7L705.3 933.9L711.9 870L721 892L728.3 925.3L737.9 839.7L742.9 897.4L747.2 836.8L755.5 895.9L762.2 839.2L772.3 932.3L778.3 898.9L783 827.9L792.3 912.3" stroke="#37AD6B" stroke-width="8.0"/>
<path d="M208.5 592.8L228.0 558.5L189.0 558.5Z" fill="#37AD6B"/>
<path d="M318.0 559.8L337.5 525.5L298.5 525.5Z" fill="#37AD6B"/>
<path d="M938.0 897.8L957.5 863.5L918.5 863.5Z" fill="#37AD6B"/>
<path d="M1405.0 1011.7L1424.5 977.4L1385.5 977.4Z" fill="#37AD6B"/>
<path d="M1587.0 931.4L1606.5 897.1L1567.5 897.1Z" fill="#37AD6B"/>
<path d="M208.5 361.8L214.1 365.9L218.3 372.6L218.6 395M259 395L263.1 379.2L268.1 367.6L273.1 361L275.6 354.3L276.4 344.4L281.4 334.4L282.2 322.8L286.4 314.5L288.9 304.5L290.5 294.5L291 287L296.3 287.9L298 296.2L299.7 301.2L306.3 296.2L308.8 287.9L310.5 281.2L313 287.9L316.3 289.5L319.6 287.9L322.1 292.9L326.2 291.2L331.2 282.9L334.6 277.9L336.2 263L339.5 258L340.4 241.4L342 216.4L342.9 191.5L344.5 178.2L347.8 175.7L349.5 191.5L350.3 216.4L351.2 241.4L352 266.3L356.1 271.3L357 282.9L355.3 294.5L357.8 304.5L359.5 316.1L360.3 332.7L361.1 349.3L362.8 365.9L364.5 382.6L365.3 395M396.8 395L399.3 389.2L401.8 395M218.6 395L219.9 419.9L222.4 444.8L224.9 469.8L227.4 488L229.1 489.7L233.2 484.7L238.2 478.1L243.2 464.8L246.5 449.8L249.8 428.2L253.2 408.3L257.3 395M366.1 395L367.8 408.3L371.1 411.6L372.8 424.9L374.4 441.5L379.4 446.5L382.7 461.4L384.4 474.7L385.7 481.4L386.9 474.7L387.7 449.8L389.4 441.5L391 428.2L392.7 410L396.8 403.3L399.3 395M401.8 395L402.7 405L401.8 441.5L406 428.2L406.8 411.6L411 414.9L413.5 419.9L414.3 461.4L420.9 464.8L424.3 478.1L427.6 494.7L429.2 511.3L432.6 527.9L435 544.5L436.7 561.1L437.5 572.7L440.9 577.7L449.2 586L457.5 561.1L461.6 542L464.1 569.4L463.3 621.7L465.8 594.3L469.9 559.5L472.4 586L473.3 602.6L477.4 609.3L478.2 640M499 620.9L497.3 640M479.1 640L477.4 659.9L479.1 671.6L484.1 669.9L485.7 651.6L490.7 659.9L494 673.2L497.3 693.2L500 694.8M502.5 640L503.3 664.9L505 689.8L506.6 703.1L512.5 711.4L514.1 739.7L515 772.9L516.6 796.1L519.1 779.5L521.6 739.7L522.4 706.4L523.3 673.2L524.9 671.6L526.6 689.8L527.4 723.1L533.2 716.4L539 705.6L544.9 704.8L546.5 723.1L547.3 743L549.8 746.3L551.5 723.1L550.7 704.8L554 706.4L556.5 719.7L559 746.3L561.5 739.7L564 718.1L566.4 715.6L568.9 723.1L569.8 743L571.4 766.2L574.8 769.6L575.6 789.5L578.1 806.1L579.7 831L581.4 847.6L583.1 885L584.7 951.5L586.4 1017.9L589.7 1084.4L593.9 1194.8L597.2 1130L598 1017.9L598.8 951.5L599.7 885L601.3 839.3L603 789.5L603.8 756.3L608 729.7L613 723.1L617.9 721.4L619.6 736.3L618.8 759.6L623.8 746.3L625.4 772.9L626.2 806.1L627.9 822.7L631.2 854.3L634.6 822.7L637 789.5L641.2 779.5L642.9 739.7L644.5 718.1L647 715.6L651.2 723.1L655.3 721.4L657 743L659.5 756.3L664.5 757.9L665.3 781.2L667.8 806.1L669.4 839.3L671.1 869.2L672.8 901.6L676.1 934.9L679.4 969.7L682.7 934.9L687.7 901.6L689.4 839.3L691 814.4L692.7 781.2L696 779.5L699.3 797.8L704.3 772.9L709.3 767.9L715.9 768.7L719.3 781.2L722.6 792.8L725.9 789.5L729.2 782L731.7 782.9L734.2 806.1L737.5 822.7L739.2 839.3L744.2 824.4L747.5 839.3L749.2 855.9L750.8 885L752.5 934.9L758.6 973.1L762.5 934.9L764.1 885L760.8 839.3L764.1 827.7L769.1 831L774.1 822.7L777.4 806.1L782.4 804.5L785.7 822.7L787.4 872.6L789 806.1L792.4 797L797.3 806.1L800 814.4M800 816.3L801.7 849.5L805 866.1L810 891L813.3 849.5L814.1 808L818.3 814.6L823.3 832.9L834.1 801.3L833.2 832.9L834.1 866.1L834.9 899.3L835.7 932.6L839 965.8L843.2 994L848.2 949.2L844.9 899.3L848.2 891L853.2 907.6L856.5 866.1L859.8 832.9L862.3 783.1L864.5 769.8L866.4 783.1L868.1 799.7L873.1 799.7L874.8 816.3L878.1 849.5L881.4 882.7L883.1 920.9L886.4 899.3L889.7 866.1L893 832.9L896.3 813L901.3 811.3L903 801.3L908 799.7L909.6 784.7L912.1 783.1L914.6 799.7L916.3 832.9L919.6 849.5L922.9 854.5L926.2 866.1L929.6 882.7L932.9 891L936.2 915.9L937.9 945L939.5 1048.8L940.9 1146L942.9 1048.8L944.5 945L946.2 907.6L949.5 915.9L952.8 932.6L959.5 927.6L962.8 957.5L966.1 984.1L967.8 866.1L968.6 819.6L976.1 813L981.1 832.9L984.4 836.2L986 876.9L991 849.5L992.7 824.6L996.8 813L1004.3 822.9L1007.6 849.5L1009.3 866.1L1014.3 857.8L1015.9 882.7L1017.6 915.9L1020.9 945L1024.3 982.4L1026.7 1012.3L1029.2 982.4L1030.9 945L1032.6 882.7L1035.9 879.4L1039.2 899.3L1040.9 866.1L1042.5 832.9L1045.8 824.6L1049.2 832.9L1052.5 866.1L1054.2 899.3L1059.1 866.1L1065.8 864.5L1069.1 882.7L1072.4 911L1075.7 866.1L1077.4 816.3L1079.1 794.7L1085.7 783.9L1089 803L1090.7 832.9L1092.4 866.1L1093.2 915.9L1095.7 882.7L1097.3 857.8L1100 856.1M1100 866.1L1103.3 915.9L1106.6 945L1111.6 994.9L1115 1015.6L1118.3 994.9L1118.3 866.1L1119.9 832.9L1124.1 827.9L1128.2 849.5L1131.6 832.9L1134.9 859.5L1139.9 849.5L1144 816.3L1148.2 849.5L1153.2 866.1L1156.5 882.7L1158.1 915.9L1159.8 945L1163.1 969.9L1173.1 974.9L1178.1 994.9L1183.1 1011.5L1187.2 1028.9L1190.5 994.9L1189.7 899.3L1191.4 866.1L1193 849.5L1199.7 849.5L1203 899.3L1206.3 866.1L1206.3 816.3L1208.8 813.8L1214.6 816.3L1218.8 806.3L1222.9 827.9L1227.9 832.9L1229.6 866.1L1231.2 915.9L1232.9 969.9L1235.4 984.1L1239.5 961.6L1241.2 912.6L1246.2 963.3L1251.2 978.2L1254.5 984.1L1259.5 961.6L1259.5 866.1L1262 827.9L1266.1 859.5L1272.8 866.1L1279.4 841.2L1284.4 827.9L1287.7 849.5L1291 904.3L1294.4 849.5L1296.8 836.2L1299.3 866.1L1301 915.9L1301.8 1028.1L1303.5 1109.5L1310.1 1139.4L1317.6 1109.5L1315.9 1024.8L1319.3 973.3L1322.6 1011.5L1326.7 1055.5L1330.1 994.9L1330.9 866.1L1332.6 799.7L1339.2 794.7L1341.7 786.4L1345.8 799.7L1347.5 832.9L1350.8 857.8L1354.2 869.4L1359.1 849.5L1362.5 866.1L1367.4 837.9L1370.8 866.1L1372.4 899.3L1374.1 994.9L1376.6 1022.3L1380.7 986.5L1382.4 922.6L1385.7 1011.5L1390.7 1029.7L1395.7 1011.5L1400 1003.2M1380 1016.4L1382.2 931.8L1383.3 921L1386.5 975.2L1389.8 1027.3L1393 1018.6L1397.4 996.9L1401.7 964.4L1403.9 910.2L1406 866.8L1407.1 834.2L1411.5 823.4L1414.7 845.1L1416.9 888.5L1419 855.9L1422.3 823.4L1425.6 838.6L1432.1 836.4L1436.4 845.1L1439.7 866.8L1441.8 910.2L1442.9 975.2L1445.1 1018.6L1449.4 1027.3L1453.8 996.9L1454.8 944.9L1458.1 944.9L1461.3 975.2L1463.5 1001.3L1468.9 1007.8L1471.1 975.2L1473.3 910.2L1475.4 866.8L1480.9 827.7L1488.5 866.8L1490.6 895L1495 888.5L1498.2 866.8L1500.4 834.2L1503.6 832.1L1506.9 855.9L1510.2 910.2L1512.3 953.5L1514.5 996.9L1517.7 1040.3L1517.9 1052M1529.7 1052L1529.7 1020.8L1525.3 1018.6L1521 1040.3L1521.2 1052M1544 1052L1544.9 1018.6L1545.9 931.8L1547 866.8L1548.1 838.6L1553.5 836.4L1556.8 831L1560 838.6L1564.4 845.1L1568.7 836.4L1570.9 812.5L1574.1 806L1577.4 823.4L1578.5 888.5L1579.6 1040.3M1560 836.4L1566.5 840.7L1570.8 816.9L1574.1 806L1578.4 827.7L1580.6 866.8L1581.7 931.8L1582.8 975.2L1584.9 1036L1590.4 1040.3L1592.5 996.9L1595.8 953.5L1598 936.2L1601.2 953.5L1603.4 975.2L1606.6 996.9L1608.8 1020.8L1611 975.2L1611 910.2L1611 851.6L1616.4 845.1L1619.7 820.1L1622.9 845.1L1627.2 858.1L1629.4 888.5L1632.7 910.2L1635.9 901.5L1639.2 866.8L1642.4 847.2L1646.8 847.2L1648.9 866.8L1650 931.8L1651.1 988.2L1655.4 1049L1655.7 1052M1586 1040.3L1586.9 1052M1668.5 996.9L1672.8 986.1L1677.1 1018.6L1678.1 1052M1678.4 1052L1681.5 996.9L1681.5 931.8L1682.6 888.5L1683.6 849.4L1690.2 834.2L1696.7 834.2L1698.8 855.9L1701 884.1L1705.3 877.6L1708.6 858.1L1711.8 860.3L1714 888.5L1715.1 931.8L1715.1 996.9L1716.2 1040.3L1717.4 1052M1514.9 1052L1516.3 1077.9L1522.2 1116.6L1528 1122.5L1529.9 1203.9L1532.4 1219.4L1539.6 1203.9L1543.5 1165.1L1544.9 1052M1533.9 1052L1536.7 1169M1586.2 1052L1587.1 1126.3L1590.4 1145.7L1593.9 1126.3L1595.1 1052M1656 1052L1657.9 1126.3L1662.4 1197.1L1666.6 1126.3L1667.9 1052M1678 1052L1678.3 1057.5L1678.6 1052M1715.8 1052L1718 1107L1725.8 1145.7L1733.5 1107L1737.4 1074M690 900.9L705.5 819.9L722.4 815.1L733.9 890.7L753.8 916.8L770.7 825.3L781.9 900.4L804.1 835.8L821.1 913.9L835.9 914L857.8 847.1L872.3 845.2L895.6 935.9L906.7 845.4L928.9 933.5L942.6 848.9L966.4 849.1L983.1 941.2L993.4 831.1L1009.9 931L1029.8 846.4L1039.3 916.8L1054.4 844.3L1074.6 926L1096.5 837.2L1119.5 859.6L1134.2 928.3L1145.7 854.9L1160.2 831.4L1174.3 921L1194.4 849.2L1206.4 947.7L1217.4 836.3L1231.9 945.9L1242.7 849.1L1260.5 927.6L1275.8 939.6L1297.2 853.8L1319.3 937.4L1337.1 832.1L1350 930.4L1361.2 840.8L1372.9 942.4" stroke="#B177DE" stroke-width="8.0"/>
<path d="M208.5 340.8L229.7 362.0L208.5 383.2L187.3 362.0Z" fill="#B177DE"/>
<path d="M328.7 286.6L349.9 307.8L328.7 329.0L307.5 307.8Z" fill="#B177DE"/>
<path d="M454.2 563.8L475.4 585.0L454.2 606.2L433.0 585.0Z" fill="#B177DE"/>
<path d="M577.6 794.5L598.8 815.7L577.6 836.9L556.4 815.7Z" fill="#B177DE"/>
<path d="M706.0 789.8L727.2 811.0L706.0 832.2L684.8 811.0Z" fill="#B177DE"/>
<path d="M834.0 780.1L855.2 801.3L834.0 822.5L812.8 801.3Z" fill="#B177DE"/>
<path d="M986.0 855.8L1007.2 877.0L986.0 898.2L964.8 877.0Z" fill="#B177DE"/>
<path d="M1144.0 795.1L1165.2 816.3L1144.0 837.5L1122.8 816.3Z" fill="#B177DE"/>
<path d="M1311.0 1118.2L1332.2 1139.4L1311.0 1160.6L1289.8 1139.4Z" fill="#B177DE"/>
<path d="M1480.9 828.2L1502.1 849.4L1480.9 870.6L1459.7 849.4Z" fill="#B177DE"/>
<path d="M1655.4 990.8L1676.6 1012.0L1655.4 1033.2L1634.2 1012.0Z" fill="#B177DE"/>
<path d="M211.5 668H1728" stroke="#808080" stroke-width="8" stroke-dasharray="33 28" stroke-linecap="butt"/>
</g>
<path d="M1161 137.5H1318" stroke="#515151" stroke-width="7" fill="none"/>
<rect x="1224.3" y="122.5" width="30" height="30" fill="#515151"/>
<text transform="translate(1340.1,161.6) scale(1.236,0.9)" font-size="72" xml:space="preserve"><tspan class="i">σ</tspan></text>
<text transform="translate(1378.2,179.2) scale(0.91,1)" font-size="46.5" xml:space="preserve">3</text>
<text transform="translate(1398.6,161.6) scale(0.996,1)" font-size="72" xml:space="preserve">=50kPa</text>
<path d="M1161 248H1318" stroke="#F14040" stroke-width="7" fill="none"/>
<circle cx="1239.3" cy="248.0" r="17" fill="#F14040"/>
<text transform="translate(1340.1,272.1) scale(1.236,0.9)" font-size="72" xml:space="preserve"><tspan class="i">σ</tspan></text>
<text transform="translate(1378.2,289.7) scale(0.91,1)" font-size="46.5" xml:space="preserve">3</text>
<text transform="translate(1398.6,272.1) scale(0.996,1)" font-size="72" xml:space="preserve">=100kPa</text>
<path d="M1161 358.5H1318" stroke="#1A6FDF" stroke-width="7" fill="none"/>
<path d="M1239.3 336.2L1258.8 369.8L1219.8 369.8Z" fill="#1A6FDF"/>
<text transform="translate(1340.1,382.6) scale(1.236,0.9)" font-size="72" xml:space="preserve"><tspan class="i">σ</tspan></text>
<text transform="translate(1378.2,400.2) scale(0.91,1)" font-size="46.5" xml:space="preserve">3</text>
<text transform="translate(1398.6,382.6) scale(0.996,1)" font-size="72" xml:space="preserve">=200kPa</text>
<path d="M1161 469H1318" stroke="#37AD6B" stroke-width="7" fill="none"/>
<path d="M1239.3 491.8L1258.8 457.5L1219.8 457.5Z" fill="#37AD6B"/>
<text transform="translate(1340.1,493.1) scale(1.236,0.9)" font-size="72" xml:space="preserve"><tspan class="i">σ</tspan></text>
<text transform="translate(1378.2,510.7) scale(0.91,1)" font-size="46.5" xml:space="preserve">3</text>
<text transform="translate(1398.6,493.1) scale(0.996,1)" font-size="72" xml:space="preserve">=400kPa</text>
<path d="M1161 579.5H1318" stroke="#B177DE" stroke-width="7" fill="none"/>
<path d="M1239.3 558.3L1260.5 579.5L1239.3 600.7L1218.1 579.5Z" fill="#B177DE"/>
<text transform="translate(1340.1,603.6) scale(1.236,0.9)" font-size="72" xml:space="preserve"><tspan class="i">σ</tspan></text>
<text transform="translate(1378.2,621.2) scale(0.91,1)" font-size="46.5" xml:space="preserve">3</text>
<text transform="translate(1398.6,603.6) scale(0.996,1)" font-size="72" xml:space="preserve">=800kPa</text>
</svg></body></html>
